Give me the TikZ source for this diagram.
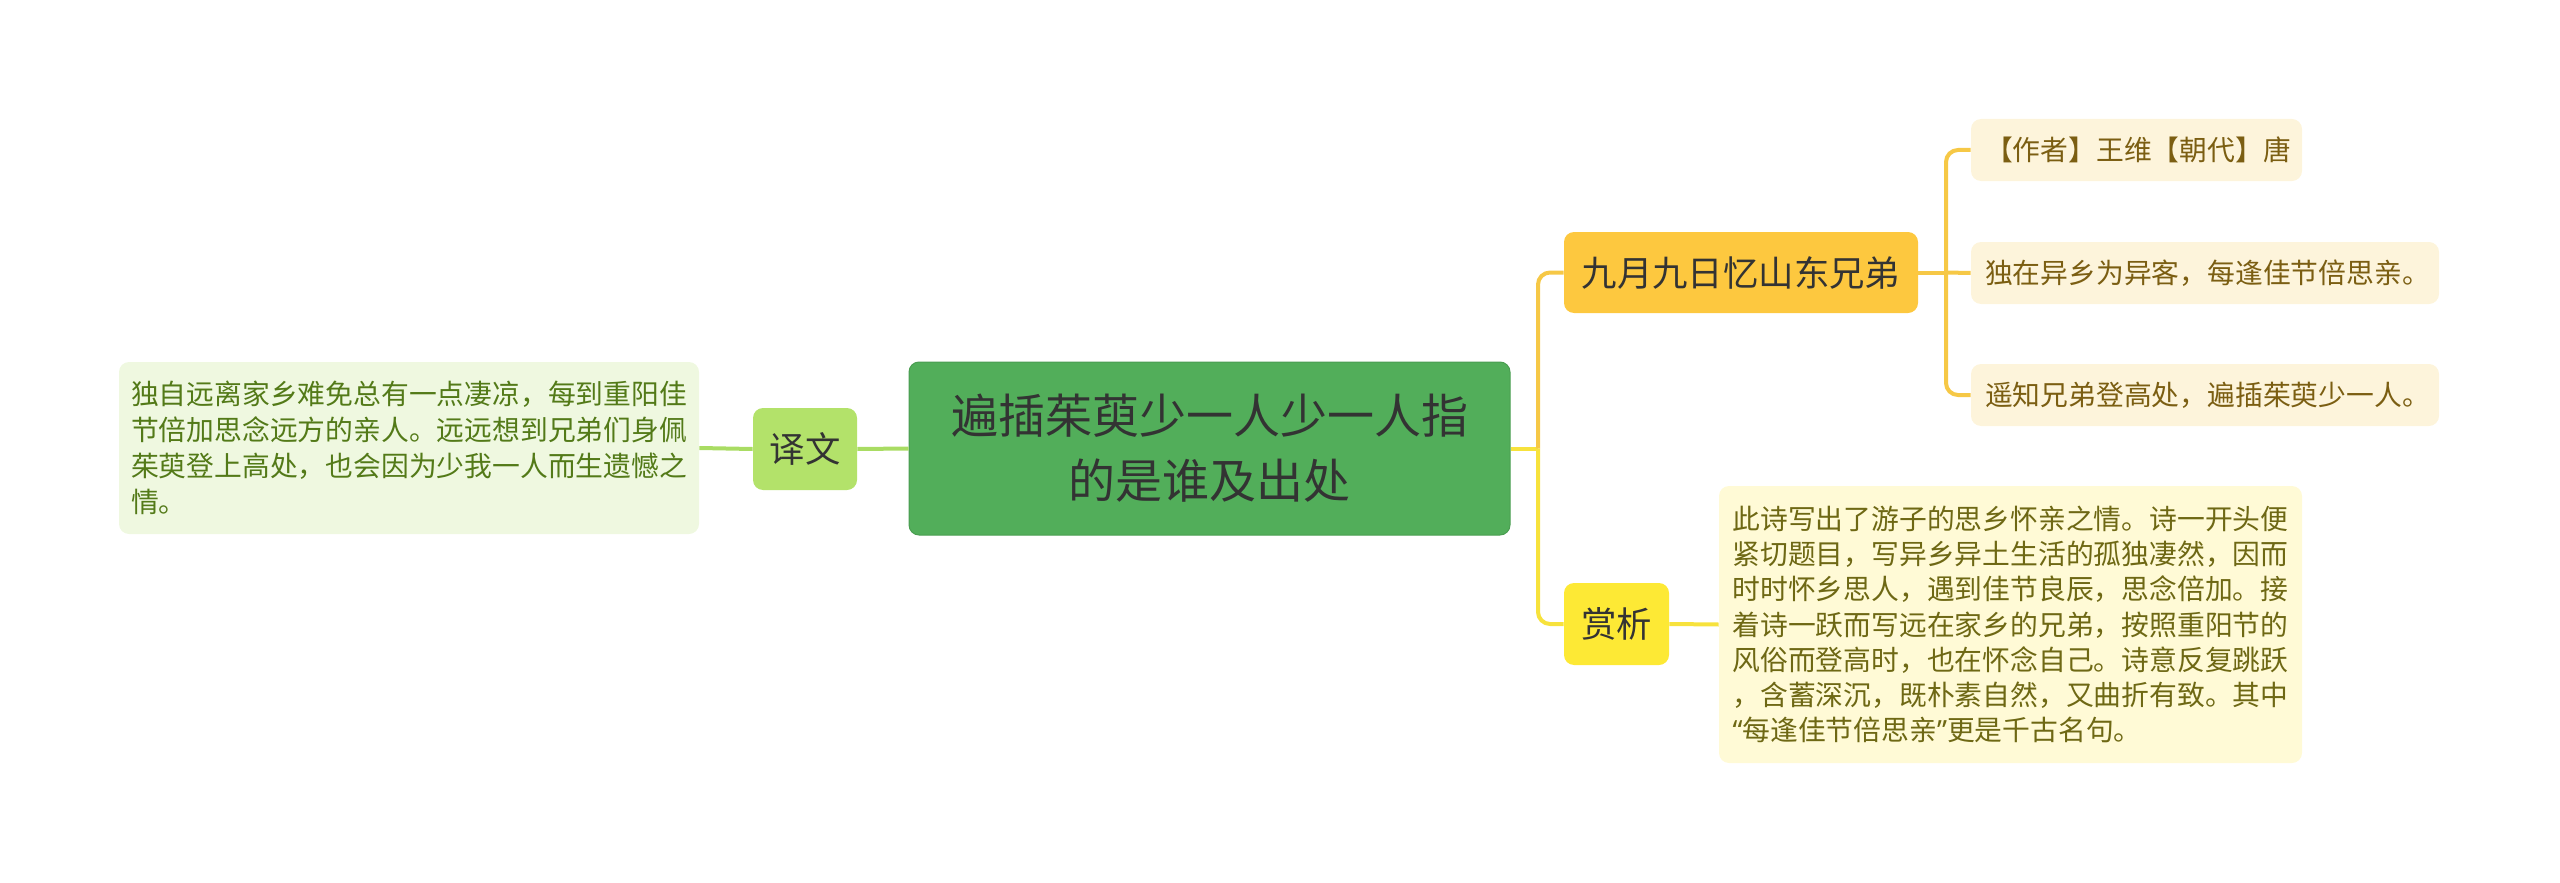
\documentclass[tikz,border=0pt]{standalone}
\usepackage{fontspec}
\setmainfont{Noto Sans CJK SC}
\newfontfamily\latinq{Noto Sans}
\definecolor{cgreen}{HTML}{52AE5A}
\definecolor{cgreenln}{HTML}{A9DC63}
\definecolor{cyiwen}{HTML}{B3E26A}
\definecolor{cleftbg}{HTML}{EFF8E0}
\definecolor{clefttx}{HTML}{537A18}
\definecolor{corange}{HTML}{FDC83F}
\definecolor{corangeln}{HTML}{F6C846}
\definecolor{cyellow}{HTML}{FDE935}
\definecolor{cyellowln}{HTML}{F7E23C}
\definecolor{crightbg}{HTML}{FFFAD6}
\definecolor{crighttx}{HTML}{6E6814}
\definecolor{csmallbg}{HTML}{FDF4DB}
\definecolor{csmalltx}{HTML}{7B5E12}
\definecolor{cdark}{HTML}{333333}
\tikzset{
  box/.style={rounded corners=5pt, inner sep=0pt, anchor=center},
  maintopic/.style={box, fill=cgreen, draw=cgreen!90!black, line width=0.5pt, text=cdark,
     minimum width=300.5pt, minimum height=86.5pt, align=center,
     font=\fontsize{23.5pt}{32.5pt}\selectfont},
  topic/.style={box, text=cdark, minimum height=40.5pt, align=center,
     font=\fontsize{17.7pt}{22pt}\selectfont},
  note/.style={box, align=left, font=\fontsize{13.9pt}{18pt}\selectfont},
  gln/.style={cgreenln, line width=2pt},
  oln/.style={corangeln, line width=2pt, rounded corners=6pt},
  yln/.style={cyellowln, line width=2pt, rounded corners=6pt},
}
\begin{document}
\begin{tikzpicture}[x=0.5pt,y=-0.5pt]
\useasboundingbox (0,0) rectangle (2560,883);
% central
\node[maintopic] (c) at (1209.5,448.5) {遍插茱萸少一人少一人指\\的是谁及出处};
% left
\node[topic, fill=cyiwen, minimum width=52pt, minimum height=41pt] (yw) at (805,449) {译文};
\node[note, fill=cleftbg, text=clefttx, minimum width=290pt, minimum height=86pt, text width=278pt] (lb) at (409,448)
 {独自远离家乡难免总有一点凄凉，每到重阳佳\\节倍加思念远方的亲人。远远想到兄弟们身佩\\茱萸登上高处，也会因为少我一人而生遗憾之\\情。};
% right
\node[topic, fill=corange, minimum width=177pt] (jy) at (1741,272.5) {九月九日忆山东兄弟};
\node[topic, fill=cyellow, minimum width=52.5pt, minimum height=41pt] (sx) at (1616.5,624) {赏析};
\node[note, fill=crightbg, text=crighttx, minimum width=291.5pt, minimum height=138.5pt, text width=278pt,
      font=\fontsize{13.9pt}{17.6pt}\selectfont] (rb) at (2010.5,624.5)
 {此诗写出了游子的思乡怀亲之情。诗一开头便\\紧切题目，写异乡异土生活的孤独凄然，因而\\时时怀乡思人，遇到佳节良辰，思念倍加。接\\着诗一跃而写远在家乡的兄弟，按照重阳节的\\风俗而登高时，也在怀念自己。诗意反复跳跃\\，含蓄深沉，既朴素自然，又曲折有致。其中\\{\latinq “}每逢佳节倍思亲{\latinq ”}更是千古名句。};
\node[note, fill=csmallbg, text=csmalltx, minimum width=165.5pt, minimum height=31pt, text width=151.5pt] (s1) at (2136.5,150) {【作者】王维【朝代】唐};
\node[note, fill=csmallbg, text=csmalltx, minimum width=234pt, minimum height=31pt, text width=220pt] (s2) at (2205,273) {独在异乡为异客，每逢佳节倍思亲。};
\node[note, fill=csmallbg, text=csmalltx, minimum width=234pt, minimum height=31pt, text width=220pt] (s3) at (2205,395) {遥知兄弟登高处，遍插茱萸少一人。};
% connectors
\coordinate (t) at (1538,448.5);
\coordinate (t2) at (1946,272.5);
\draw[gln] (lb.east) -- (yw.west);
\draw[gln] (yw.east) -- (c.west);
\draw[yln] (c.east) -- (t);
\draw[oln] (t) |- (jy.west);
\draw[yln] (t) |- (sx.west);
\draw[yln] (sx.east) -- (rb.west);
\draw[oln] (jy.east) -- (t2);
\draw[oln] (t2) |- (s1.west);
\draw[oln] (t2) -- (s2.west);
\draw[oln] (t2) |- (s3.west);
\end{tikzpicture}
\end{document}
